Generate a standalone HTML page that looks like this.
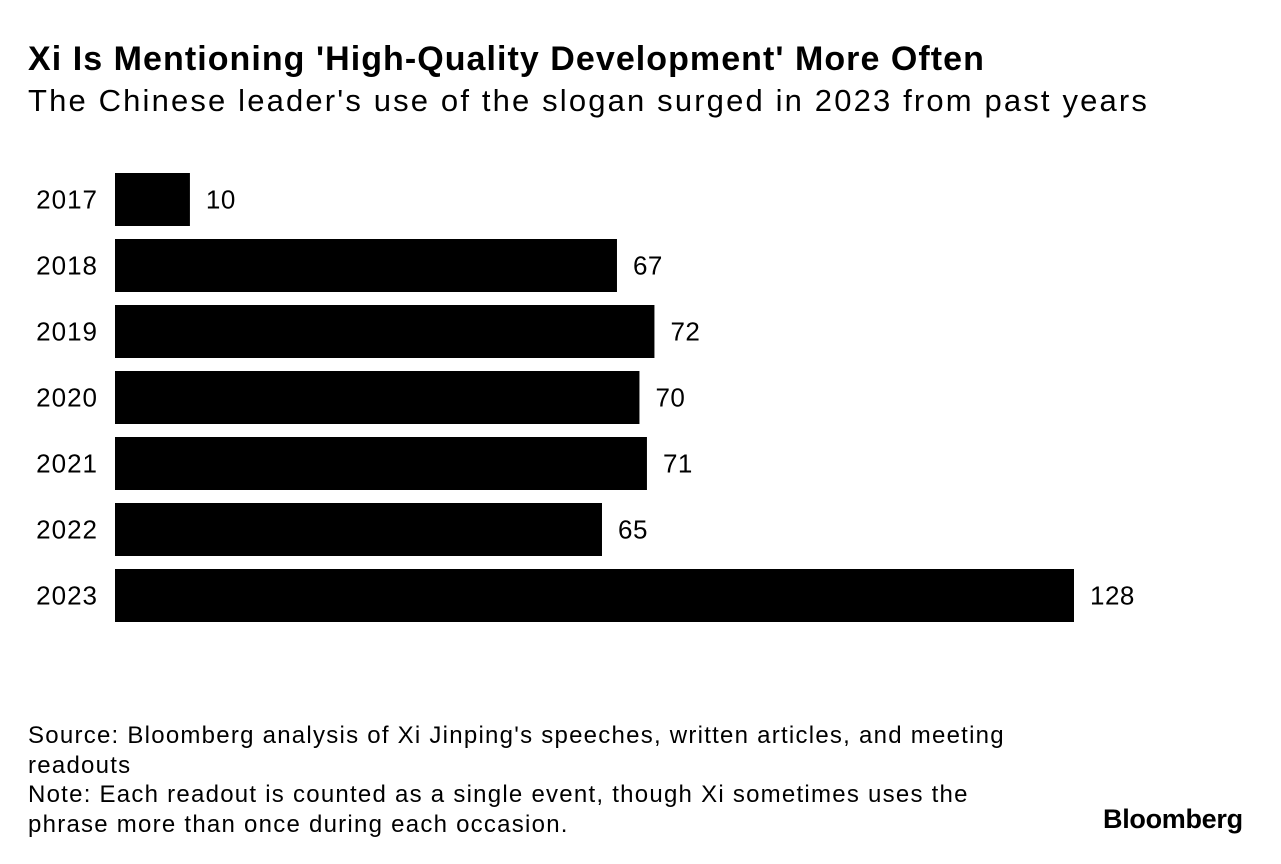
<!DOCTYPE html>
<html><head><meta charset="utf-8"><style>
body{margin:0;background:#fff;font-family:"Liberation Sans",sans-serif;color:#000}
#c{position:relative;width:1281px;height:864px;overflow:hidden}
.t{position:absolute;white-space:nowrap}
</style></head><body>
<div id="c">
<div class="t" style="left:28px;top:40px;font-size:34px;font-weight:bold;letter-spacing:1.05px">Xi Is Mentioning 'High-Quality Development' More Often</div>
<div class="t" style="left:28px;top:83px;font-size:31px;letter-spacing:2.15px">The Chinese leader's use of the slogan surged in 2023 from past years</div>
<svg id="plot" width="1281" height="680" style="position:absolute;left:0;top:0"></svg>
<div class="t" style="left:28px;top:721px;font-size:24px;line-height:29.5px;letter-spacing:1.25px">Source: Bloomberg analysis of Xi Jinping's speeches, written articles, and meeting<br>readouts<br>Note: Each readout is counted as a single event, though Xi sometimes uses the<br>phrase more than once during each occasion.</div>
<div class="t" style="left:1103px;top:804px;font-size:27px;font-weight:bold;letter-spacing:-0.3px">Bloomberg</div>
</div>
<script>
const categories=["2017","2018","2019","2020","2021","2022","2023"];
const values=[10,67,72,70,71,65,128];
const svg=document.getElementById('plot');
const NS='http://www.w3.org/2000/svg';
const x0=115,scale=(1074-115)/128;
function xs(v){return x0+v*scale;}
function ys(i){return 173+i*66;}
const bh=53;
categories.forEach((c,i)=>{
 const r=document.createElementNS(NS,'rect');
 r.setAttribute('x',x0);r.setAttribute('y',ys(i));
 r.setAttribute('width',xs(values[i])-x0);r.setAttribute('height',bh);
 r.setAttribute('fill','#000');
 
 
 svg.appendChild(r);
 const yl=document.createElementNS(NS,'text');
 yl.setAttribute('x',98);yl.setAttribute('y',ys(i)+bh/2+9);
 yl.setAttribute('text-anchor','end');yl.setAttribute('font-size','26');
 yl.setAttribute('letter-spacing','1');
 yl.setAttribute('font-family','Liberation Sans, sans-serif');
 yl.textContent=c;
 
 
 svg.appendChild(yl);
 const vl=document.createElementNS(NS,'text');
 vl.setAttribute('x',xs(values[i])+16);vl.setAttribute('y',ys(i)+bh/2+9);
 vl.setAttribute('font-size','26');
 vl.setAttribute('letter-spacing','0.5');
 vl.setAttribute('font-family','Liberation Sans, sans-serif');
 vl.textContent=values[i];
 
 
 svg.appendChild(vl);
});
</script>
</body></html>
